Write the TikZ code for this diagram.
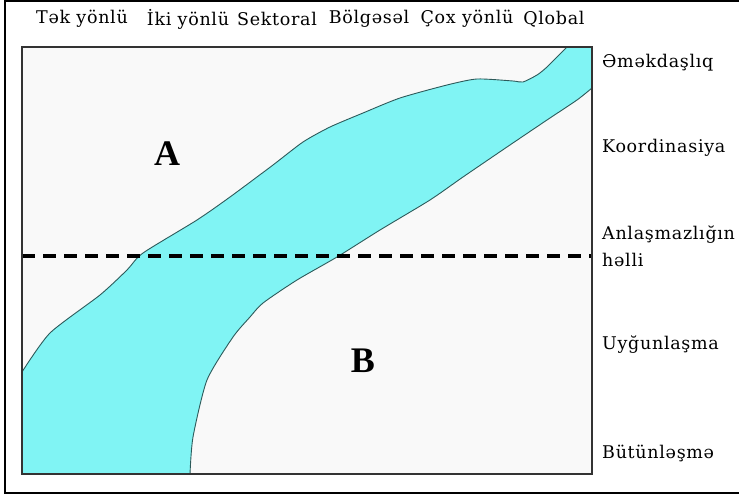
\documentclass[tikz,border=0pt]{standalone}
\usepackage{fontspec}
\setmainfont{DejaVu Serif}[LetterSpace=4]
\newfontfamily\letterfont{Liberation Serif}
\usetikzlibrary{positioning}
\definecolor{zolaCyan}{RGB}{128,244,244}
\definecolor{zolaEdge}{RGB}{45,90,90}
\definecolor{zolaBack}{RGB}{249,249,249}

\begin{document}
\begin{tikzpicture}[
  x=1pt, y=-1pt,
  toplab/.style  = {inner sep=0pt, font=\fontsize{17.5}{19}\selectfont},
  sidelab/.style = {anchor=west, inner sep=0pt, align=left,
                    font=\fontsize{17.5}{27}\selectfont},
  zone/.style    = {inner sep=0pt, font=\letterfont\bfseries\fontsize{36}{36}\selectfont},
  edge/.style    = {draw=zolaEdge, line width=0.9pt},
  divide/.style  = {line width=3.6pt, dash pattern=on 13pt off 8pt},
]
\useasboundingbox (0,0) rectangle (739,494);
% ── Çərçivələr ───────────────────────────────────────────────
\draw[line width=1.8pt] (5,1) rectangle (760,493);
\fill[zolaBack] (22,47) rectangle (592,474);

% ── Zolaq ────────────────────────────────────────────────────
\fill[zolaCyan] plot[smooth, tension=0.4] coordinates {
    (22,372) (50,333) (100,295) (127,270) (143,253) (197,220) (230,197)
    (273,165) (303,142) (330,127) (363,113) (400,98) (447,85) (477,79)
    (513,81) (523,82) (537,75) (547,67) (567,47)}
  -- (592,47) -- (592,88)
  -- plot[smooth, tension=0.4] coordinates {
    (592,88) (577,100) (547,120) (507,147) (463,177) (430,200) (380,230)
    (337,257) (297,280) (263,303) (250,317) (233,337) (207,380) (193,437)
    (190,474)}
  -- (22,474) -- cycle;
\draw[edge] plot[smooth, tension=0.4] coordinates {
    (22,372) (50,333) (100,295) (127,270) (143,253) (197,220) (230,197)
    (273,165) (303,142) (330,127) (363,113) (400,98) (447,85) (477,79)
    (513,81) (523,82) (537,75) (547,67) (567,47)};
\draw[edge] plot[smooth, tension=0.4] coordinates {
    (592,88) (577,100) (547,120) (507,147) (463,177) (430,200) (380,230)
    (337,257) (297,280) (263,303) (250,317) (233,337) (207,380) (193,437)
    (190,474)};

% ── Ayırıcı xətt ─────────────────────────────────────────────
\coordinate (dL) at (22,256);
\coordinate (dR) at (592,256);
\draw[divide] (dL) -- (dR);
\draw[line width=1.2pt, draw=black!80] (22,47) rectangle (592,474);

% ── Zonalar ──────────────────────────────────────────────────
\node[zone] (A) at (167,154) {A};
\node[zone] (B) at (363,361) {B};

% ── Yuxarı yazılar ───────────────────────────────────────────
\node[toplab] (tek)  at (82,19)  {Tək yönlü};
\node[toplab] (iki)  at (188,19) {İki yönlü};
\node[toplab] (sek)  at (277,19) {Sektoral};
\node[toplab] (bol)  at (369,19) {Bölgəsəl};
\node[toplab] (cox)  at (467,19) {Çox yönlü};
\node[toplab] (qlob) at (554,19) {Qlobal};

% ── Sağ yazılar ──────────────────────────────────────────────
\node[sidelab] (emek) at (602,63)  {Əməkdaşlıq};
\node[sidelab] (koor) at (602,148) {Koordinasiya};
\node[sidelab] (anla) at (602,246) {Anlaşmazlığın\\həlli};
\node[sidelab] (uygu) at (602,345) {Uyğunlaşma};
\node[sidelab] (butu) at (602,453) {Bütünləşmə};

\end{tikzpicture}
\end{document}
